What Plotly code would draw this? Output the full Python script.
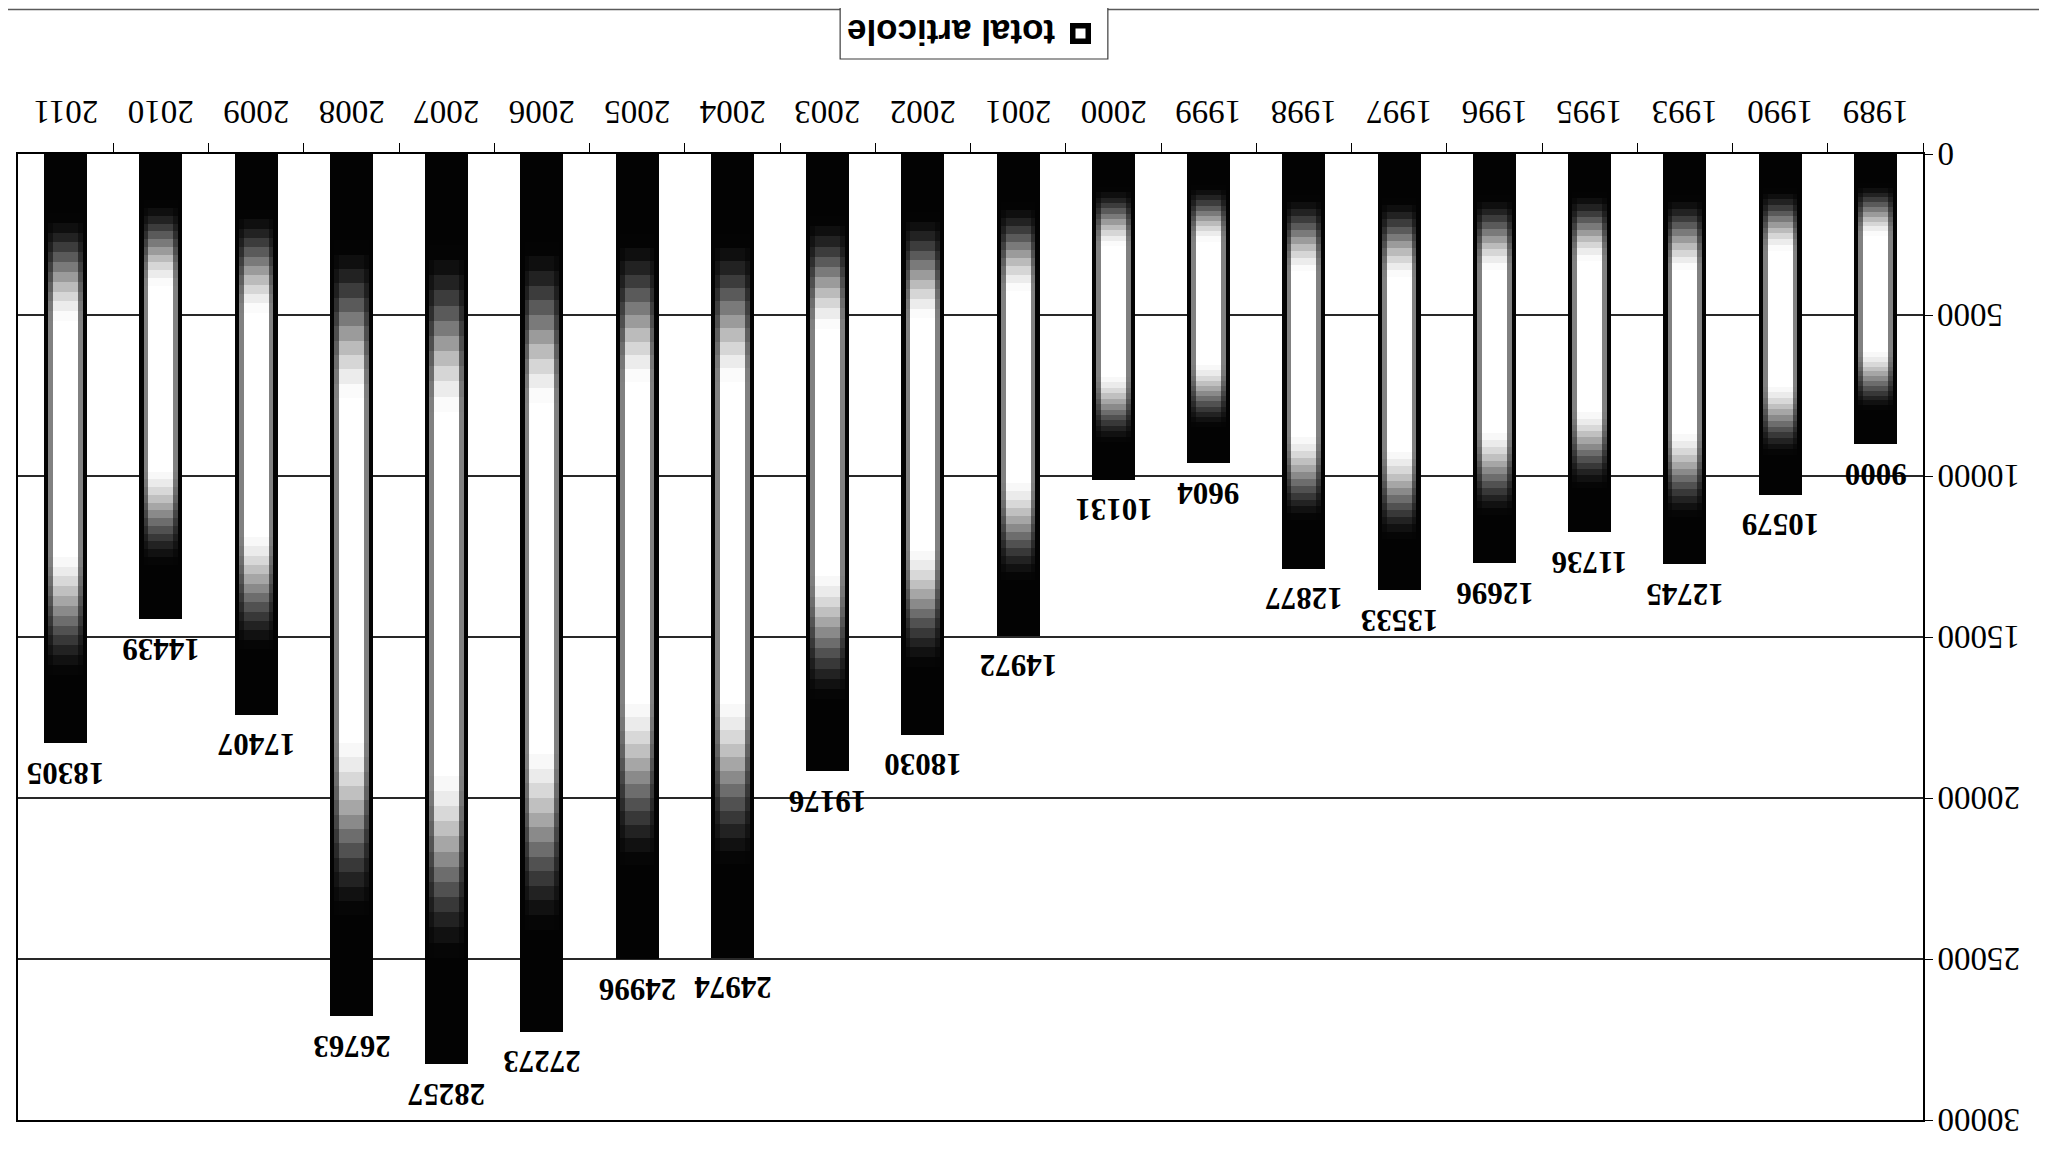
import plotly.graph_objects as go

years = ["1989", "1990", "1993", "1995", "1996", "1997", "1998", "1999", "2000", "2001",
         "2002", "2003", "2004", "2005", "2006", "2007", "2008", "2009", "2010", "2011"]
total_articole = [9000, 10579, 12745, 11736, 12696, 13533, 12877, 9604, 10131, 14972,
                  18030, 19176, 24974, 24996, 27273, 28257, 26763, 17407, 14439, 18305]
y_ticks = [0, 5000, 10000, 15000, 20000, 25000, 30000]
legend_label = "total articole"

W, H = 2047, 1151
P = 8  # page body margin of the browser
ML, MR, MT, MB = 16 - P, 2047 - (1923 - P), 154 - P, 1151 - (1120 - P)
PW, PH = W - ML - MR, H - MT - MB

SERIF = "Liberation Serif, Times New Roman, serif"
SANS = "Liberation Sans, Arial, sans-serif"

N_SEG = 60


def px2x(px):
    return (px - P - ML) / PW


def px2y(py):
    return (H - MB - (py - P)) / PH


def profile(t):
    # brightness along the bar length (0 = base, 1 = tip)
    if t < 0.10:
        return 0.0
    if t < 0.29:
        s = (t - 0.10) / 0.19
        return s * s * (3 - 2 * s)
    if t < 0.67:
        return 1.0
    if t < 0.89:
        s = 1 - (t - 0.67) / 0.22
        return s * s * (3 - 2 * s)
    return 0.0


def grey(level):
    v = int(round(max(0, min(255, level))))
    return f"rgb({v},{v},{v})"


fig = go.Figure()

# outer dark bar
fig.add_trace(go.Bar(
    x=years, y=total_articole, base=0, width=0.45,
    marker=dict(color="rgb(3,3,3)", line=dict(width=0)),
    showlegend=False, hoverinfo="x+y",
))

# gradient layers (middle and inner) built from stacked segments of each bar
for width, strength in ((0.36, 0.5), (0.26, 1.0)):
    for k in range(N_SEG):
        t = (k + 0.5) / N_SEG
        lvl = 3 + 252 * profile(t) * strength
        fig.add_trace(go.Bar(
            x=years,
            base=[v * k / N_SEG for v in total_articole],
            y=[v / N_SEG for v in total_articole],
            width=width,
            marker=dict(color=grey(lvl), line=dict(width=0)),
            showlegend=False, hoverinfo="skip",
        ))

annotations = []

# value labels beyond each bar tip (upside down); x given as category index
for i, v in enumerate(total_articole):
    annotations.append(dict(
        x=i, y=v, xref="x", yref="y", text=f"<b>{v}</b>", showarrow=False,
        textangle=180, xanchor="center", yanchor="middle", yshift=-30,
        font=dict(family=SERIF, size=31, color="black"),
    ))

# category labels above the top axis (upside down)
for i, yr in enumerate(years):
    annotations.append(dict(
        x=i, y=1, xref="x", yref="paper", text=yr, showarrow=False,
        textangle=180, xanchor="center", yanchor="middle", yshift=42,
        font=dict(family=SERIF, size=33, color="black"),
    ))

# value-axis labels right of the axis (upside down, left aligned)
for tv in y_ticks:
    annotations.append(dict(
        x=1, y=tv, xref="paper", yref="y", text=str(tv), showarrow=False,
        textangle=180, xanchor="left", yanchor="middle", xshift=12,
        font=dict(family=SERIF, size=33, color="black"),
    ))

# legend text and marker
annotations.append(dict(
    x=px2x(950), y=px2y(33), xref="paper", yref="paper",
    text="<b>" + legend_label + "</b>", showarrow=False, textangle=180,
    xanchor="center", yanchor="middle",
    font=dict(family=SANS, size=35, color="black"),
))
annotations.append(dict(
    x=px2x(1080), y=px2y(33), xref="paper", yref="paper",
    text=" ", showarrow=False, width=10, height=10,
    bgcolor="white", bordercolor="black", borderwidth=5.5, borderpad=0,
    xanchor="center", yanchor="middle",
    font=dict(size=6),
))

fig.update_layout(
    width=W, height=H,
    margin=dict(l=ML, r=MR, t=MT, b=MB, pad=0),
    paper_bgcolor="white", plot_bgcolor="white",
    barmode="overlay", bargap=0,
    showlegend=False,
    font=dict(family=SERIF, size=28, color="black"),
    xaxis=dict(
        type="category", categoryorder="array", categoryarray=years,
        range=[len(years) - 0.5, -0.5], side="top",
        showline=True, linecolor="black", linewidth=1.5, mirror=True,
        ticks="outside", tickson="boundaries", ticklen=9, tickcolor="black", tickwidth=1,
        showticklabels=False,
        showgrid=False, zeroline=False,
    ),
    yaxis=dict(
        range=[30000, 0], side="right",
        tickvals=y_ticks,
        showline=True, linecolor="black", linewidth=1.5, mirror=True,
        ticks="outside", ticklen=8, tickcolor="black", tickwidth=1,
        showticklabels=False,
        showgrid=True, gridcolor="rgb(40,40,40)", gridwidth=1.5,
        zeroline=False,
    ),
    annotations=annotations,
    shapes=[
        dict(type="rect", xref="paper", yref="paper",
             x0=-0.2, x1=px2x(2044), y0=-0.2, y1=px2y(P + 1.5),
             line=dict(color="rgb(90,90,90)", width=1.5), layer="below"),
        dict(type="rect", xref="paper", yref="paper",
             x0=px2x(839), x1=px2x(1107), y0=px2y(59), y1=px2y(7),
             line=dict(color="rgb(60,60,60)", width=1.2), fillcolor="white", layer="below"),
    ],
)

fig.write_html("out.html")
